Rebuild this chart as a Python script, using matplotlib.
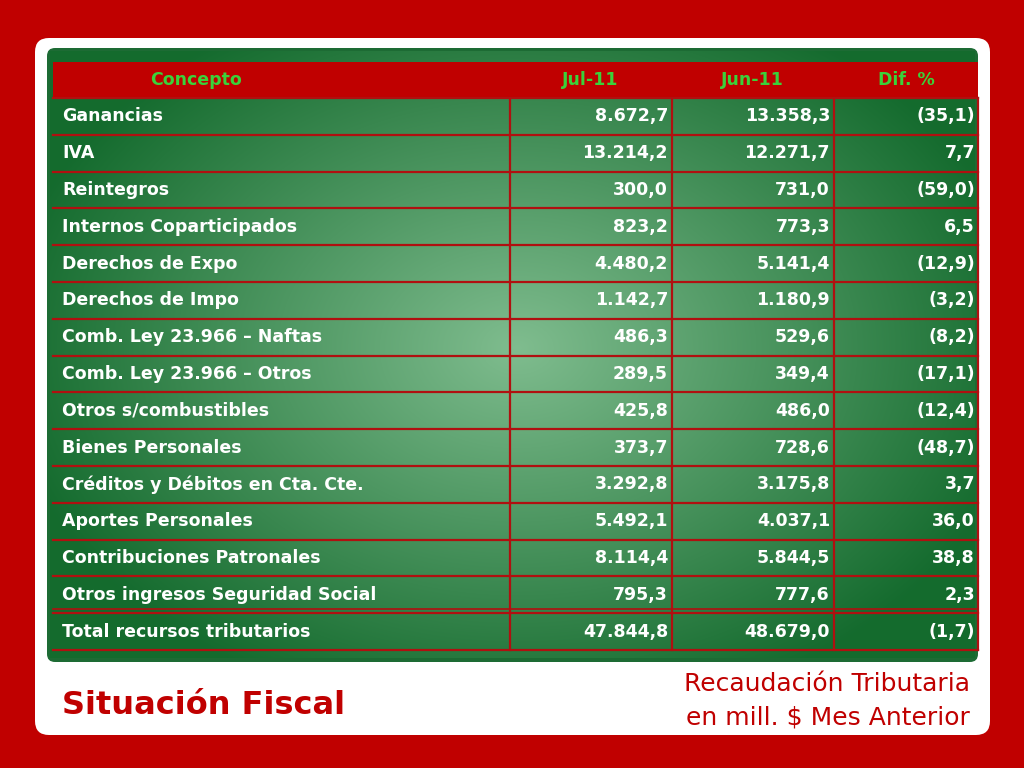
import matplotlib.pyplot as plt
import numpy as np
from matplotlib.patches import FancyBboxPatch, Rectangle

conceptos = [
    "Ganancias", "IVA", "Reintegros", "Internos Coparticipados",
    "Derechos de Expo", "Derechos de Impo", "Comb. Ley 23.966 – Naftas",
    "Comb. Ley 23.966 – Otros", "Otros s/combustibles", "Bienes Personales",
    "Créditos y Débitos en Cta. Cte.", "Aportes Personales",
    "Contribuciones Patronales", "Otros ingresos Seguridad Social",
    "Total recursos tributarios",
]
jul11 = ["8.672,7", "13.214,2", "300,0", "823,2", "4.480,2", "1.142,7", "486,3",
         "289,5", "425,8", "373,7", "3.292,8", "5.492,1", "8.114,4", "795,3", "47.844,8"]
jun11 = ["13.358,3", "12.271,7", "731,0", "773,3", "5.141,4", "1.180,9", "529,6",
         "349,4", "486,0", "728,6", "3.175,8", "4.037,1", "5.844,5", "777,6", "48.679,0"]
dif = ["(35,1)", "7,7", "(59,0)", "6,5", "(12,9)", "(3,2)", "(8,2)",
       "(17,1)", "(12,4)", "(48,7)", "3,7", "36,0", "38,8", "2,3", "(1,7)"]
headers = ["Concepto", "Jul-11", "Jun-11", "Dif. %"]

RED = "#c00000"
fig = plt.figure(figsize=(10.24, 7.68), dpi=100, facecolor=RED)
ax = fig.add_axes([0, 0, 1, 1])
ax.set_xlim(0, 1024)
ax.set_ylim(768, 0)
ax.axis("off")

ax.add_patch(FancyBboxPatch((35, 38), 955, 697, boxstyle="round,pad=0,rounding_size=14",
                            fc="white", ec="none"))
ax.add_patch(FancyBboxPatch((47, 48), 931, 614, boxstyle="round,pad=0,rounding_size=8",
                            fc="#1d6b34", ec="none", zorder=1))
# radial green gradient
yy, xx = np.mgrid[0:614, 0:931]
d = np.sqrt(((xx - 470) / 520) ** 2 + ((yy - 300) / 380) ** 2)
d = np.clip(d, 0, 1)[..., None]
c_in = np.array([0.50, 0.74, 0.56])
c_out = np.array([0.08, 0.42, 0.18])
img = c_in * (1 - d) + c_out * d
ax.imshow(img, extent=(50, 975, 658, 51), zorder=1.5, interpolation="bilinear")

cols = [53, 510, 672, 834, 978]
y0, hh, rh = 62, 36, 36.8
ax.add_patch(Rectangle((53, y0), 925, hh, fc=RED, ec="none", zorder=2))
hx = [196, 590, 752, 906]
for x, h in zip(hx, headers):
    ax.text(x, y0 + hh / 2, h, color="#3ad23a", fontsize=12.5, fontweight="bold",
            ha="center", va="center", zorder=3)

top = y0 + hh
n = len(conceptos)
for i in range(n + 1):
    y = top + i * rh
    ax.plot([53, 978], [y, y], color="#b01010", lw=1.6, zorder=3)
for x in cols[1:]:
    ax.plot([x, x], [top, top + n * rh], color="#b01010", lw=1.6, zorder=3)
ax.plot([53, 978], [top + (n - 1) * rh - 4] * 2, color="#b01010", lw=1.2, zorder=3)

for i in range(n):
    yc = top + (i + 0.5) * rh
    kw = dict(color="white", fontsize=12.5, fontweight="bold", va="center", zorder=4)
    ax.text(62, yc, conceptos[i], ha="left", **kw)
    ax.text(668, yc, jul11[i], ha="right", **kw)
    ax.text(830, yc, jun11[i], ha="right", **kw)
    ax.text(975, yc, dif[i], ha="right", **kw)

ax.text(62, 705, "Situación Fiscal", color=RED, fontsize=23, fontweight="bold",
        ha="left", va="center")
ax.text(970, 684, "Recaudación Tributaria", color=RED, fontsize=18, ha="right", va="center")
ax.text(970, 717, "en mill. $ Mes Anterior", color=RED, fontsize=18, ha="right", va="center")

fig.savefig("out.png", dpi=100, facecolor=RED)
